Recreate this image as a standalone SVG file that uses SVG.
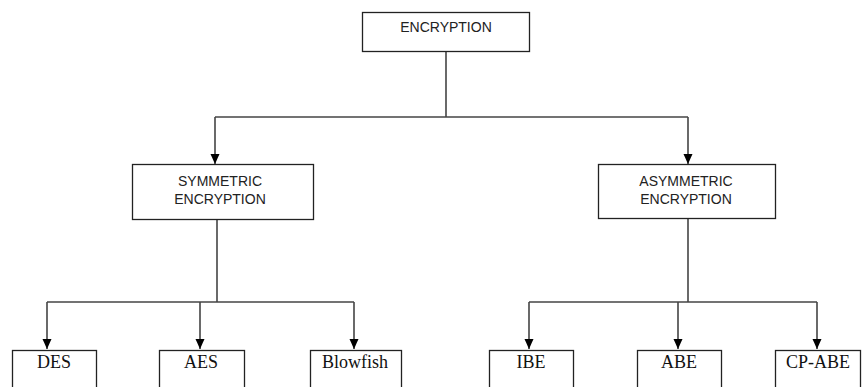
<svg xmlns="http://www.w3.org/2000/svg" width="862" height="387" viewBox="0 0 862 387">
<style>
.box{fill:#fff;stroke:#222;stroke-width:1.3}
.sans{font-family:"Liberation Sans",Arial,sans-serif;font-size:14px;fill:#222;text-anchor:middle}
.serif{font-family:"Liberation Serif","Times New Roman",serif;font-size:18px;fill:#111;text-anchor:middle}
.ln{fill:none;stroke:#444;stroke-width:1.6}
</style>
<defs>
<marker id="ah" viewBox="0 0 10 10" refX="10" refY="5" markerWidth="10" markerHeight="10" markerUnits="userSpaceOnUse" orient="auto">
<path d="M0,0.5 L10,5 L0,9.5 Z" fill="#000"/>
</marker>
</defs>
<rect width="862" height="387" fill="#fff"/>
<g id="connectors">
<path class="ln" d="M446,51 V117"/>
<path class="ln" d="M215,117 H688"/>
<path class="ln" d="M215,117 V164" marker-end="url(#ah)"/>
<path class="ln" d="M688,117 V164" marker-end="url(#ah)"/>
<path class="ln" d="M217,219 V302"/>
<path class="ln" d="M47,302 H354"/>
<path class="ln" d="M47,302 V349" marker-end="url(#ah)"/>
<path class="ln" d="M200,302 V349" marker-end="url(#ah)"/>
<path class="ln" d="M354,302 V349" marker-end="url(#ah)"/>
<path class="ln" d="M688,218 V302"/>
<path class="ln" d="M529,302 H817"/>
<path class="ln" d="M529,302 V349" marker-end="url(#ah)"/>
<path class="ln" d="M678,302 V349" marker-end="url(#ah)"/>
<path class="ln" d="M817,302 V349" marker-end="url(#ah)"/>
</g>
<g id="encryption">
<rect class="box" x="362.5" y="12.5" width="167" height="39"/>
<text class="sans" x="446" y="32">ENCRYPTION</text>
</g>
<g id="symmetric">
<rect class="box" x="132.5" y="164.5" width="181" height="55"/>
<text class="sans" x="220" y="186">SYMMETRIC</text>
<text class="sans" x="220" y="204">ENCRYPTION</text>
</g>
<g id="asymmetric">
<rect class="box" x="598.5" y="164.5" width="177" height="54"/>
<text class="sans" x="686" y="186">ASYMMETRIC</text>
<text class="sans" x="686" y="204">ENCRYPTION</text>
</g>
<g id="des">
<rect class="box" x="12.5" y="350.5" width="84" height="50"/>
<text class="serif" x="54" y="368">DES</text>
</g>
<g id="aes">
<rect class="box" x="159.5" y="350.5" width="85" height="50"/>
<text class="serif" x="201" y="368">AES</text>
</g>
<g id="blowfish">
<rect class="box" x="310.5" y="350.5" width="91" height="50"/>
<text class="serif" x="355" y="368">Blowfish</text>
</g>
<g id="ibe">
<rect class="box" x="489.5" y="350.5" width="84" height="50"/>
<text class="serif" x="531" y="368">IBE</text>
</g>
<g id="abe">
<rect class="box" x="637.5" y="350.5" width="84" height="50"/>
<text class="serif" x="679" y="368">ABE</text>
</g>
<g id="cpabe">
<rect class="box" x="775.5" y="350.5" width="85" height="50"/>
<text class="serif" x="818" y="368">CP-ABE</text>
</g>
</svg>
